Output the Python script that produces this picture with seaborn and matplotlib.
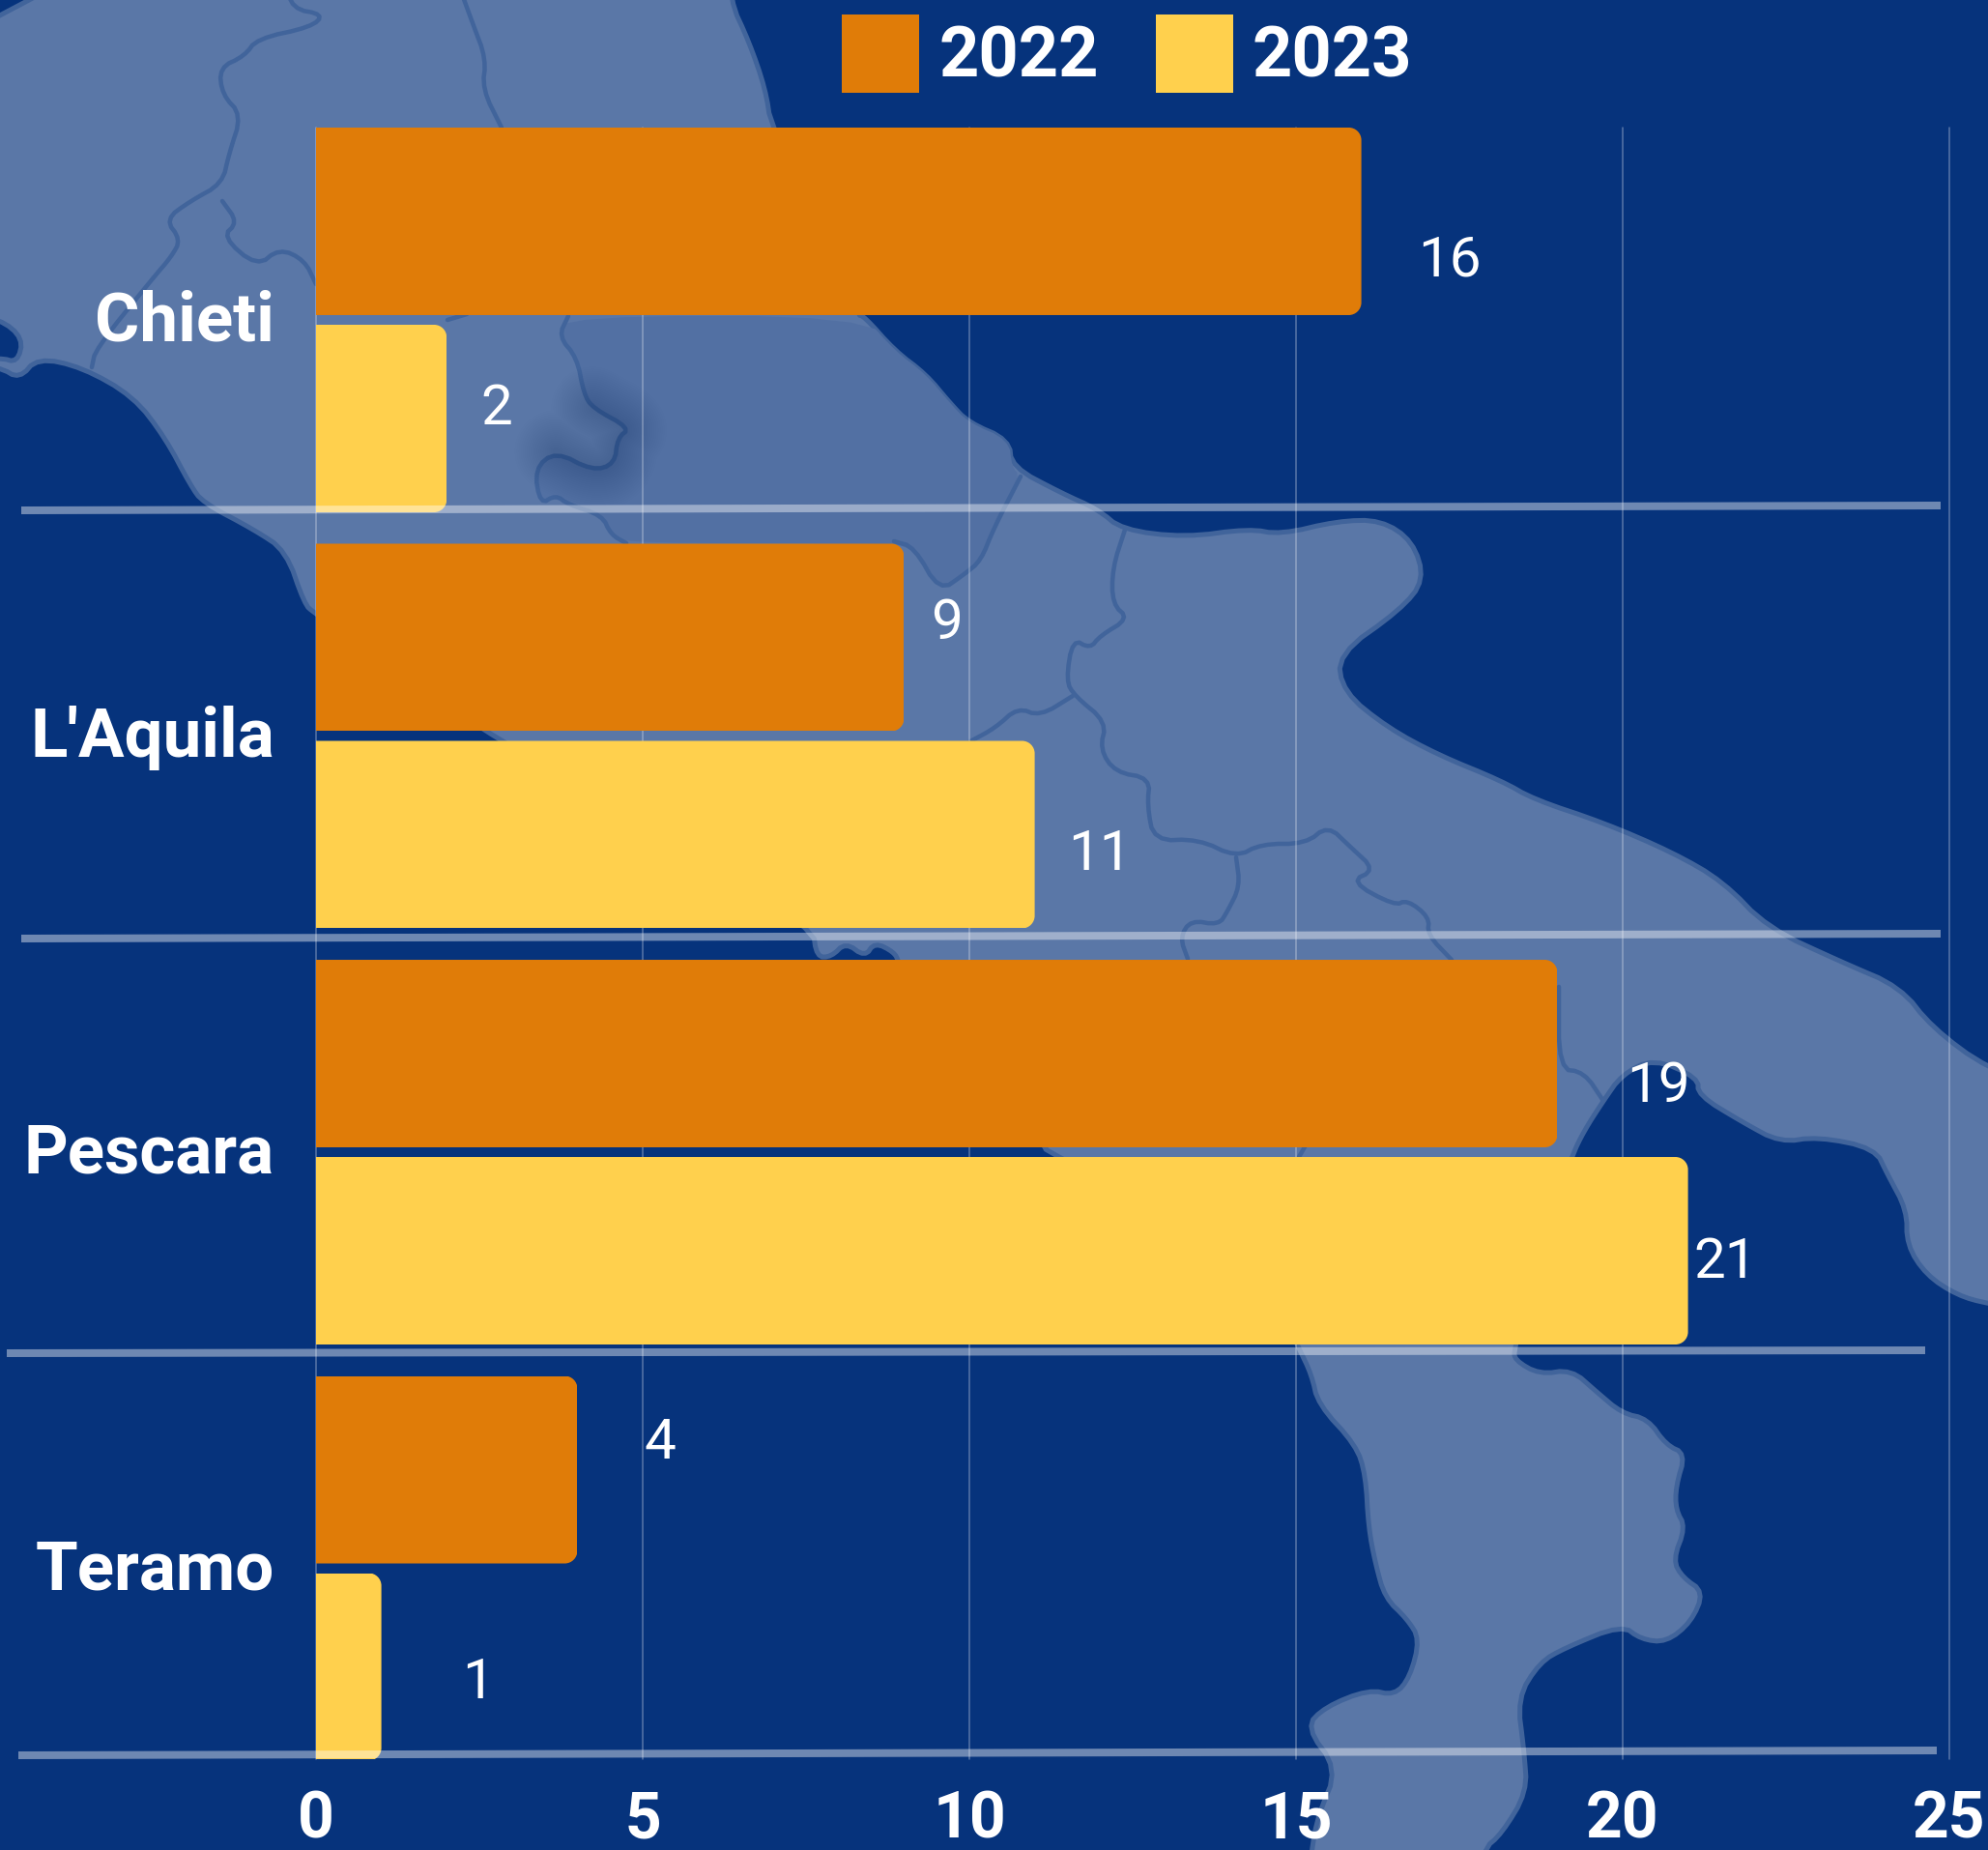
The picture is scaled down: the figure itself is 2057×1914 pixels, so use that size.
import matplotlib
matplotlib.use("Agg")
import matplotlib.pyplot as plt
import pandas as pd
import seaborn as sns
from matplotlib.lines import Line2D
from matplotlib.patches import Polygon
from matplotlib.path import Path
from matplotlib.transforms import Affine2D

# ---- data ----
provinces = ["Chieti", "L'Aquila", "Pescara", "Teramo"]
values_2022 = [16, 9, 19, 4]
values_2023 = [2, 11, 21, 1]
years = ["2022", "2023"]
x_ticks = [0, 5, 10, 15, 20, 25]

# ---- style ----
SEA = "#06337C"
LAND = "#5A77A7"
LAND_DARK = "#5270A3"
BORDER = "#41649B"
PALETTE = {"2022": "#E07C08", "2023": "#FFD04D"}
W, H = 2057, 1914
AX_L, AX_R, AX_T, AX_B = 327, 2017, 132, 1820

# label offsets from the bar end, in pixels (dx, dy upward)
offs_2022 = [(91, -35), (44, 20), (105, -28), (85, 33)]
offs_2023 = [(52, 15), (67, -15), (39, -6), (100, -11)]

# ---- decorative backdrop outline (pixels of the image) ----
peninsula = [(-60,-60),(755,-60),(755,0),(775,43),(792,92),(798,132),(887,326),(894,327),(926,363),(958,387),(983,417),
 (1002,437),(1044,455),(1047,483),(1098,510),(1136,527),(1161,548),(1226,556),(1292,547),(1325,553),(1384,539),
 (1429,538),(1462,560),(1474,600),(1449,631),(1384,677),(1390,716),(1436,753),(1488,781),(1554,808),(1587,827),
 (1659,851),(1731,882),(1783,912),(1829,960),(1907,996),(1966,1021),(1999,1063),(2057,1106),(2130,1130),(2130,1360),(2057,1349),(2025,1340),
 (1993,1319),(1973,1288),(1973,1252),(1953,1215),(1940,1188),(1881,1176),(1842,1182),(1803,1161),(1757,1133),(1757,1115),
 (1711,1095),(1678,1112),(1659,1139),(1639,1170),(1626,1197),(1590,1300),(1567,1395),(1567,1407),(1593,1422),(1626,1417),
 (1652,1440),(1678,1462),(1705,1468),(1724,1495),(1744,1504),(1734,1538),(1734,1562),(1744,1580),(1731,1614),(1741,1632),
 (1763,1647),(1750,1678),(1724,1699),(1698,1696),(1678,1681),(1619,1705),(1593,1720),(1570,1757),(1577,1812),(1580,1854),
 (1554,1897),(1534,1914),(1520,1990),(1350,1990),(1357,1914),(1364,1878),(1384,1830),(1351,1787),(1371,1766),(1416,1748),(1443,1754),(1459,1735),
 (1469,1696),(1456,1675),(1433,1653),(1423,1617),(1416,1580),(1413,1526),(1403,1495),(1364,1453),(1357,1422),(1344,1395),
 (1300,1300),(1082,1191),(1082,1186),(950,1050),(930,995),(925,985),(905,975),(895,990),(875,975),(860,990),
 (845,990),(841,960),(700,870),(514,765),(420,700),(325,634),(315,625),(296,570),(263,548),(210,520),
 (197,502),(171,453),(138,410),(85,380),(39,370),(20,392),(0,380),(-60,370)]
lake = [(-40,325),(0,330),(24,350),(18,375),(0,370),(-40,375)]
islet = [(1230,1960),(1272,1903),(1300,1960)]
inner_shade = [(588,327),(578,348),(597,370),(604,407),(613,422),(652,443),(639,453),(636,480),(613,487),(575,467),
 (553,485),(559,522),(575,512),(588,522),(623,533),(632,553),(648,562),(910,562),(946,566),(972,612),(998,594),
 (1015,580),(1028,547),(1056,493),(1047,483),(1044,455),(1002,437),(983,417),(958,387),(926,363),(894,327)]
borders = [
 [(296,-20),(302,9),(335,15),(322,28),(266,40),(253,58),(227,70),(230,98),(250,119),(237,159),(230,190),(197,208),
  (171,227),(187,248),(177,266),(158,288),(99,361),(95,380)],
 [(473,-20),(489,24),(503,61),(499,92),(519,132)],
 [(230,208),(246,230),(230,245),(266,276),(289,257),(315,269),(327,294)],
 [(463,331),(483,325)],
 [(588,327),(578,348),(597,370),(604,407),(613,422),(652,443),(639,453),(636,480),(613,487),(575,467),(553,485),(559,522),
  (575,512),(588,522),(623,533),(632,553),(648,562)],
 [(1056,493),(1028,547),(1015,580),(998,594),(972,612),(946,566),(925,560)],
 [(1164,548),(1151,588),(1151,625),(1168,640),(1138,658),(1128,671),(1110,661),(1103,704),(1112,720),(1145,747),
  (1138,775),(1154,799),(1190,805),(1187,833),(1194,870),(1240,868),(1279,887),(1305,873),(1351,873),(1374,854),
  (1397,876),(1423,900),(1397,912),(1443,937),(1456,931),(1479,949),(1477,967),(1502,993)],
 [(1279,887),(1283,917),(1270,943),(1261,957),(1232,952),(1221,970),(1229,992)],
 [(1110,720),(1076,741),(1053,732),(1030,753),(1004,767)],
 [(1613,1021),(1613,1106),(1639,1109),(1659,1139)],
 [(1351,1185),(1344,1197)],
]
separators = [((22, 528), (2008, 523)), ((22, 971), (2008, 966)),
              ((7, 1400), (1992, 1397)), ((19, 1816), (2004, 1811))]


def soften(points, closed=True, passes=2):
    """Corner-cut an outline so the backdrop's map edges read as curves."""
    pts = list(points)
    for _ in range(passes):
        out = [] if closed else [pts[0]]
        n = len(pts)
        for i in range(n if closed else n - 1):
            (ax_, ay_), (bx_, by_) = pts[i], pts[(i + 1) % n]
            out.append((0.75 * ax_ + 0.25 * bx_, 0.75 * ay_ + 0.25 * by_))
            out.append((0.25 * ax_ + 0.75 * bx_, 0.25 * ay_ + 0.75 * by_))
        if not closed:
            out.append(pts[-1])
        pts = out
    return pts


# ---- figure ----
sns.set_theme(style="white")
plt.rcParams["font.family"] = ["Roboto", "DejaVu Sans"]
fig = plt.figure(figsize=(W / 100, H / 100), dpi=100, facecolor=SEA)
ax = fig.add_axes([AX_L / W, 1 - AX_B / H, (AX_R - AX_L) / W, (AX_B - AX_T) / H])
ax.patch.set_visible(False)

px = Affine2D().scale(1 / W, -1 / H).translate(0, 1) + fig.transFigure
LW5 = 5 * 72 / 100
fig.add_artist(Polygon(soften(peninsula), closed=True, fc=LAND, ec=BORDER, lw=LW5, transform=px, zorder=-10,
                       joinstyle="round"))
fig.add_artist(Polygon(soften(inner_shade), closed=True, fc=LAND_DARK, ec="none", transform=px, zorder=-9))
fig.add_artist(Polygon(soften(lake), closed=True, fc=SEA, ec=BORDER, lw=LW5, transform=px, zorder=-9))
fig.add_artist(Polygon(soften(islet), closed=True, fc=LAND, ec=BORDER, lw=LW5, transform=px, zorder=-9))
for b in borders:
    xs, ys = zip(*soften(b, closed=False))
    fig.add_artist(Line2D(xs, ys, color=BORDER, lw=LW5 * 0.9, transform=px, zorder=-8,
                          solid_joinstyle="round", solid_capstyle="round"))
# soft shadow around the inland border
xs, ys = zip(*soften(borders[4][4:10], closed=False))
for lw in range(4, 62, 3):
    fig.add_artist(Line2D(xs, ys, color="#1E3F78", lw=lw, alpha=0.014, transform=px, zorder=-8,
                          solid_joinstyle="round", solid_capstyle="round"))

df = pd.DataFrame({
    "Provincia": provinces * 2,
    "Valore": values_2022 + values_2023,
    "Anno": [years[0]] * len(provinces) + [years[1]] * len(provinces),
})
sns.barplot(data=df, y="Provincia", x="Valore", hue="Anno", hue_order=years, orient="h",
            palette=PALETTE, saturation=1, width=0.9477, gap=0.049, linewidth=0, ax=ax)

ax.set_xlim(0, 25)
ax.set_ylim(3.4587, -0.4622)
ax.set_xticks(x_ticks)
ax.set_xlabel("")
ax.set_ylabel("")
sns.despine(ax=ax, left=True, bottom=True, right=True, top=True)
ax.set_axisbelow(True)
ax.grid(axis="x", color="white", alpha=0.33, lw=1.1)
ax.grid(axis="y", visible=False)
for g in ax.get_xgridlines():
    g.set_clip_on(False)
ax.tick_params(axis="x", length=0, pad=23, labelsize=47.5, labelcolor="white")
ax.tick_params(axis="y", length=0, pad=31, labelsize=51, labelcolor="white")
for t in ax.get_xticklabels():
    t.set_fontweight("bold")
for t in ax.get_yticklabels():
    t.set_fontweight("bold")
    t.set_transform(t.get_transform() + Affine2D().translate(0, 5))

# rounded right corners and value labels
sx = (AX_R - AX_L) / 25
sy = (AX_B - AX_T) / (3.4587 + 0.4622)
R = 13
K = 0.45
for cont, offs, vals in zip(ax.containers, (offs_2022, offs_2023), (values_2022, values_2023)):
    for bar, (dx, dy), v in zip(cont, offs, vals):
        x0, y0 = bar.get_x(), bar.get_y()
        x1, y1 = x0 + bar.get_width(), y0 + bar.get_height()
        rx, ry = R / sx, R / sy
        verts = [(x0, y0), (x1 - rx, y0), (x1 - K * rx, y0), (x1, y0 + K * ry), (x1, y0 + ry),
                 (x1, y1 - ry), (x1, y1 - K * ry), (x1 - K * rx, y1), (x1 - rx, y1), (x0, y1), (x0, y0)]
        codes = [Path.MOVETO, Path.LINETO, Path.CURVE4, Path.CURVE4, Path.CURVE4,
                 Path.LINETO, Path.CURVE4, Path.CURVE4, Path.CURVE4, Path.LINETO, Path.CLOSEPOLY]
        bar.set_clip_path(Path(verts, codes), ax.transData)
        ax.annotate(str(v), xy=(x1, (y0 + y1) / 2), xytext=(dx, dy), textcoords="offset pixels",
                    ha="center", va="center_baseline", color="white", fontsize=42, fontweight="normal",
                    annotation_clip=False, zorder=5)

# legend
FS = 52
fp = FS * 100 / 72
handles, labels = ax.get_legend_handles_labels()
leg = ax.legend(handles, labels, ncol=2, frameon=False, loc="upper left",
                bbox_to_anchor=(871 / W, 1 - 15 / H), bbox_transform=fig.transFigure,
                handlelength=80 / fp, handleheight=1.349, handletextpad=20 / fp,
                columnspacing=59 / fp, borderpad=0, borderaxespad=0, title=None,
                labelcolor="white", prop={"weight": "bold", "size": FS})

# row separators on top of everything
for (a, b) in separators:
    fig.add_artist(Line2D([a[0], b[0]], [a[1], b[1]], color="white", alpha=0.42, lw=8 * 72 / 100,
                          transform=px, zorder=10, solid_capstyle="butt"))

fig.savefig("out.png", dpi=100, facecolor=SEA)
